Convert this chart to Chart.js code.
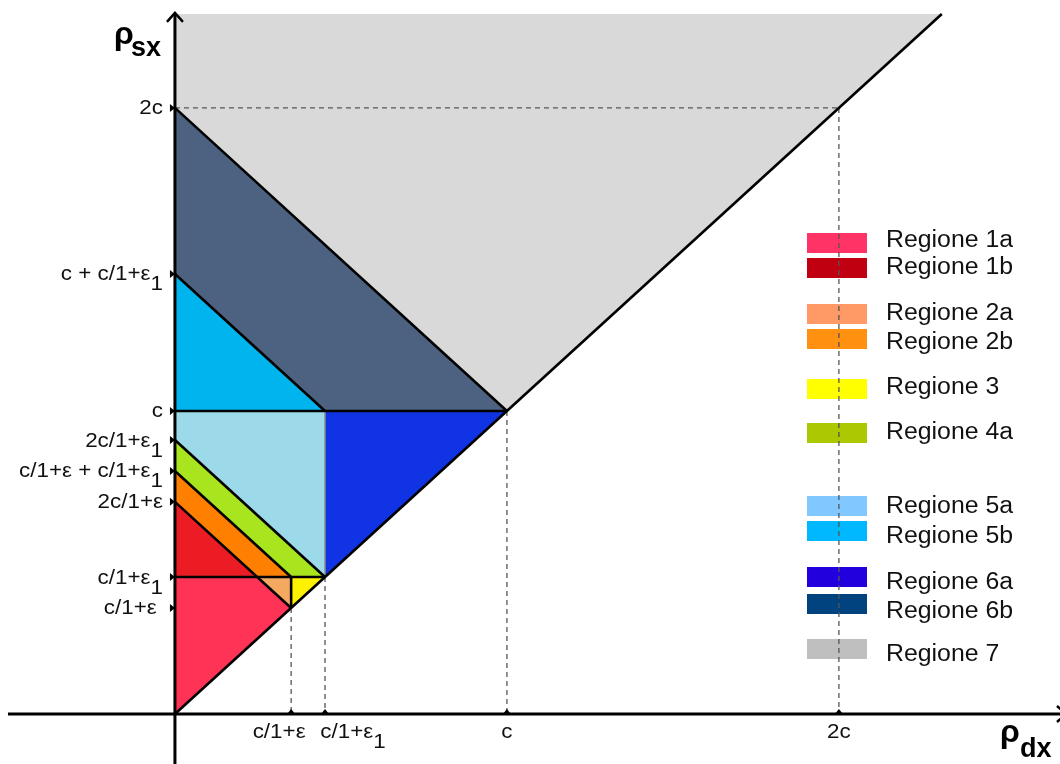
<!DOCTYPE html>
<html>
<head>
<meta charset="utf-8">
<script src="https://cdn.jsdelivr.net/npm/chart.js@4.4.0/dist/chart.umd.min.js"></script>
<style>
  html, body { margin: 0; padding: 0; background: #fff; }
  #wrap { width: 1060px; height: 764px; position: relative; }
</style>
</head>
<body>
<div id="wrap"><canvas id="myChart"></canvas></div>
<script>
// c = 1
const A = 0.35;   // c/1+ε
const B = 0.452;  // c/1+ε1
const TOP = 2.31; // top of the drawing

// regions, drawn back to front
const regionNames = ['Regione 7', 'Regione 6b', 'Regione 5b', 'Regione 5a', 'Regione 6a',
  'Regione 4a', 'Regione 2b', 'Regione 1b', 'Regione 1a', 'Regione 2a', 'Regione 3'];
const regionColors = ['#d9d9d9', '#4d6280', '#00b4ee', '#9cd9e9', '#1034e4',
  '#a9e51e', '#ff8000', '#ec1c24', '#ff3355', '#f4a860', '#fff200'];
const regionShapes = [
  [[0, TOP], [0, 2], [1, 1], [TOP, TOP]],
  [[0, 2], [1, 1], [B, 1], [0, 1 + B]],
  [[0, 1 + B], [B, 1], [0, 1]],
  [[0, 1], [B, 1], [B, B], [0, 2 * B]],
  [[B, 1], [1, 1], [B, B]],
  [[0, 2 * B], [B, B], [A, B], [0, A + B]],
  [[0, A + B], [A, B], [2 * A - B, B], [0, 2 * A]],
  [[0, 2 * A], [2 * A - B, B], [0, B]],
  [[0, B], [2 * A - B, B], [A, A], [0, 0]],
  [[2 * A - B, B], [A, B], [A, A]],
  [[A, B], [B, B], [A, A]]
];

const solidLines = [
  [[0, 0], [TOP, TOP]],
  [[0, 2], [1, 1]],
  [[0, 1 + B], [B, 1]],
  [[0, 1], [1, 1]],
  [[0, 2 * B], [B, B]],
  [[0, A + B], [A, B]],
  [[0, 2 * A], [A, A]],
  [[0, B], [B, B]],
  [[A, A], [A, B]]
];
const thinLines = [[[B, B], [B, 1]]];
const dashedLines = [
  [[0, 2], [2, 2]],
  [[2, 2], [2, 0]],
  [[A, A], [A, 0]],
  [[B, B], [B, 0]],
  [[1, 1], [1, 0]]
];
const axisLines = [
  [[-0.503, 0], [2.7, 0]],
  [[0, -0.2], [0, TOP]]
];

const xTickValues = [A, B, 1, 2];
const xTickLabels = [['c/1+ε', ''], ['c/1+ε', '1'], ['c', ''], ['2c', '']];
const yTickValues = [2, 1 + B, 1, 2 * B, A + B, 2 * A, B, A];
const yTickLabels = [['2c', ''], ['c + c/1+ε', '1'], ['c', ''], ['2c/1+ε', '1'],
  ['c/1+ε + c/1+ε', '1'], ['2c/1+ε', ''], ['c/1+ε', '1'], ['c/1+ε ', '']];

const legendLabels = ['Regione 1a', 'Regione 1b', 'Regione 2a', 'Regione 2b', 'Regione 3',
  'Regione 4a', 'Regione 5a', 'Regione 5b', 'Regione 6a', 'Regione 6b', 'Regione 7'];
const legendColors = ['#ff3366', '#c00010', '#ff9966', '#ff9010', '#ffff00',
  '#acc800', '#80c8ff', '#00b8ff', '#2200dd', '#00437f', '#bfbfbf'];

const toPts = pts => pts.map(p => ({x: p[0], y: p[1]}));
const datasets = [];
regionShapes.forEach((s, i) => datasets.push({
  label: regionNames[i], data: toPts(s.concat([s[0]])), fill: 'shape',
  backgroundColor: regionColors[i], borderColor: 'rgba(0,0,0,0)', borderWidth: 0,
  pointRadius: 0, order: 10
}));
solidLines.forEach(l => datasets.push({
  data: toPts(l), borderColor: '#000', borderWidth: 2.6, fill: false, pointRadius: 0, order: 2
}));
thinLines.forEach(l => datasets.push({
  data: toPts(l), borderColor: '#8c8c8c', borderWidth: 1.5, fill: false, pointRadius: 0, order: 3
}));
dashedLines.forEach(l => datasets.push({
  data: toPts(l), borderColor: '#555', borderWidth: 1.3, borderDash: [5, 4],
  fill: false, pointRadius: 0, order: 4
}));
axisLines.forEach(l => datasets.push({
  data: toPts(l), borderColor: '#000', borderWidth: 3, fill: false, pointRadius: 0, order: 1
}));

const FONT = '"Liberation Sans", Arial, sans-serif';

// text a little wider than the font, as in the original figure
function stretchText(ctx, text, x, y, sx) {
  ctx.save();
  ctx.translate(x, y);
  ctx.scale(sx, 1);
  ctx.fillText(text, 0, 0);
  ctx.restore();
}

function drawLabel(ctx, parts, x, y, align) {
  const sx = 1.12;
  ctx.font = '20px ' + FONT;
  const wm = ctx.measureText(parts[0]).width * sx;
  const ws = parts[1] ? ctx.measureText(parts[1]).width * sx : 0;
  let x0 = x;
  if (align === 'right') x0 = x - wm - ws;
  if (align === 'center') x0 = x - (wm + ws) / 2;
  ctx.textAlign = 'left';
  ctx.textBaseline = 'middle';
  stretchText(ctx, parts[0], x0, y, sx);
  if (parts[1]) stretchText(ctx, parts[1], x0 + wm, y + 10, sx);
}

const overlay = {
  id: 'overlay',
  beforeDatasetsDraw(chart) {
    const ctx = chart.ctx;
    const boxY = [243, 268, 314, 339, 389, 433, 506, 531, 577, 604, 649];
    const textY = [241, 268, 314, 343, 388, 433, 507, 537, 583, 612, 655];
    ctx.save();
    ctx.font = '23px ' + FONT;
    ctx.textAlign = 'left';
    ctx.textBaseline = 'middle';
    legendLabels.forEach((t, i) => {
      ctx.fillStyle = legendColors[i];
      ctx.fillRect(807, boxY[i] - 10, 60, 20);
      ctx.fillStyle = '#111';
      stretchText(ctx, t, 886, textY[i], 1.08);
    });
    ctx.restore();
  },
  afterDatasetsDraw(chart) {
    const ctx = chart.ctx;
    const xs = chart.scales.x, ys = chart.scales.y;
    const x0 = xs.getPixelForValue(0), y0 = ys.getPixelForValue(0);
    ctx.save();
    ctx.fillStyle = '#000';
    ctx.strokeStyle = '#000';
    // tick marks
    yTickValues.forEach(v => {
      const py = ys.getPixelForValue(v);
      ctx.beginPath();
      ctx.moveTo(x0 - 5, py - 4); ctx.lineTo(x0, py); ctx.lineTo(x0 - 5, py + 4); ctx.closePath();
      ctx.fill();
    });
    xTickValues.forEach(v => {
      const px = xs.getPixelForValue(v);
      ctx.beginPath();
      ctx.moveTo(px - 4, y0); ctx.lineTo(px, y0 - 5); ctx.lineTo(px + 4, y0); ctx.closePath();
      ctx.fill();
    });
    // arrows
    ctx.lineWidth = 2.5;
    const yt = ys.getPixelForValue(TOP) - 1;
    ctx.beginPath();
    ctx.moveTo(x0 - 8, yt + 9); ctx.lineTo(x0, yt); ctx.lineTo(x0 + 8, yt + 9);
    ctx.stroke();
    const xr = chart.width + 6;
    ctx.beginPath();
    ctx.moveTo(xr - 9, y0 - 8); ctx.lineTo(xr, y0); ctx.lineTo(xr - 9, y0 + 8);
    ctx.stroke();
    // tick labels
    ctx.fillStyle = '#111';
    yTickValues.forEach((v, i) => {
      drawLabel(ctx, yTickLabels[i], 163, ys.getPixelForValue(v) + 1, 'right');
    });
    const xOff = [-12, 28, 0, 0];
    xTickValues.forEach((v, i) => {
      drawLabel(ctx, xTickLabels[i], xs.getPixelForValue(v) + xOff[i], 732, 'center');
    });
    // axis titles
    ctx.fillStyle = '#000';
    ctx.textAlign = 'left';
    ctx.textBaseline = 'alphabetic';
    ctx.font = 'bold 32px ' + FONT;
    ctx.fillText('ρ', 114, 44);
    ctx.fillText('ρ', 1000, 742);
    ctx.font = 'bold 27px ' + FONT;
    ctx.fillText('sx', 131, 56);
    ctx.fillText('dx', 1020, 757);
    ctx.restore();
  }
};

const ctx = document.getElementById('myChart').getContext('2d');
const myChart = new Chart(ctx, {
  type: 'line',
  data: { datasets: datasets },
  options: {
    responsive: true,
    maintainAspectRatio: false,
    animation: false,
    events: [],
    layout: { padding: 0 },
    elements: { line: { tension: 0 } },
    scales: {
      x: { type: 'linear', min: -0.527, max: 2.666, display: false },
      y: { type: 'linear', min: -0.165, max: 2.356, display: false }
    },
    plugins: {
      legend: { display: false },
      tooltip: { enabled: false }
    }
  },
  plugins: [overlay]
});
</script>
</body>
</html>
